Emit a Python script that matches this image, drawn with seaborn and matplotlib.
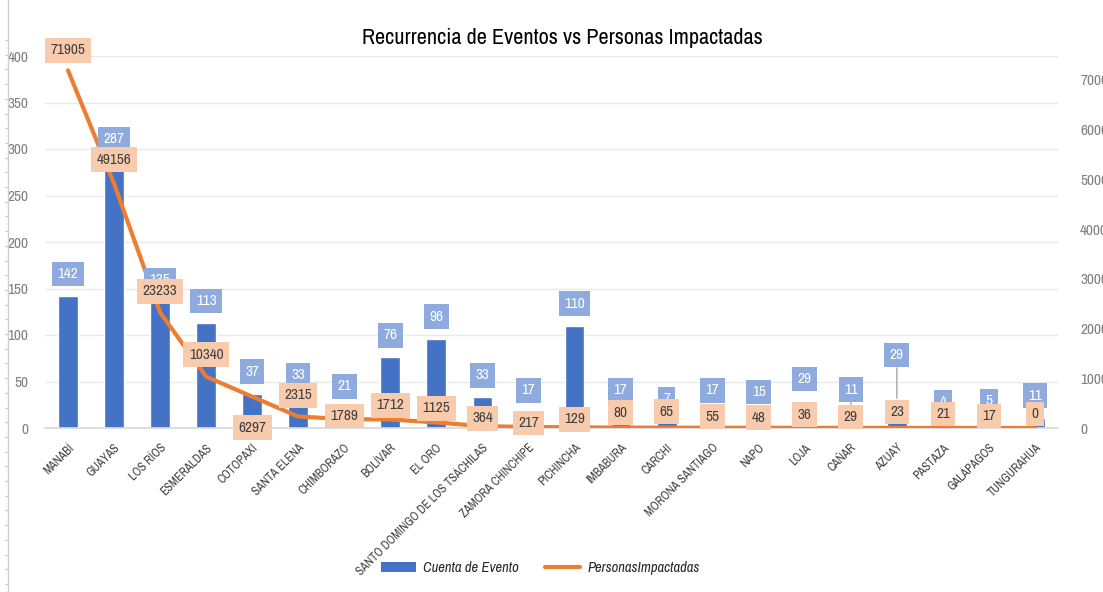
import numpy as np
import pandas as pd
import matplotlib
matplotlib.use("Agg")
import matplotlib.pyplot as plt
import seaborn as sns
from matplotlib.lines import Line2D
from matplotlib.patches import Patch
from matplotlib import font_manager as fm

provincias = ["MANABÍ", "GUAYAS", "LOS RÍOS", "ESMERALDAS", "COTOPAXI", "SANTA ELENA",
              "CHIMBORAZO", "BOLÍVAR", "EL ORO", "SANTO DOMINGO DE LOS TSÁCHILAS",
              "ZAMORA CHINCHIPE", "PICHINCHA", "IMBABURA", "CARCHI", "MORONA SANTIAGO",
              "NAPO", "LOJA", "CAÑAR", "AZUAY", "PASTAZA", "GALÁPAGOS", "TUNGURAHUA"]
cuenta_evento = [142, 287, 135, 113, 37, 33, 21, 76, 96, 33, 17, 110, 17, 7, 17, 15, 29, 11, 29, 4, 5, 11]
personas_impactadas = [71905, 49156, 23233, 10340, 6297, 2315, 1789, 1712, 1125, 364, 217, 129,
                       80, 65, 55, 48, 36, 29, 23, 21, 17, 0]
left_ticks = [0, 50, 100, 150, 200, 250, 300, 350, 400]
right_ticks = [0, 10000, 20000, 30000, 40000, 50000, 60000, 70000]

# label offsets in pixels (styling only)
line_label_dy = [20, 24, 21, 22, -31, 21, 3, 14, 14, 8, 4, 8, 15, 16, 11, 10, 13, 11, 16, 14, 12, 14]
bar_label_dy = [22, 22, 22, 22, 22, 22, 22, 22, 22, 22, 22, 22, 22, 22, 22, 22, 22, 28, 46, 22, 22, 22]

sns.set_theme(style="white")
plt.rcParams["font.family"] = ["DejaVu Sans"]

# look for a condensed / narrow regular font
cands = []
for f in fm.fontManager.ttflist:
    nm = f.name
    st = str(f.stretch)
    if ("Narrow" in nm or "Condensed" in nm or st in ("condensed", "semi-condensed", "extra-condensed")):
        cands.append(f)
cands.sort(key=lambda f: (f.style != "normal", abs((f.weight if isinstance(f.weight, int) else 400) - 400), f.name))
REG = cands[0].fname if cands else None
ITA = None
if cands:
    its = [f for f in fm.fontManager.ttflist if f.name == cands[0].name and f.style == "italic"]
    if its:
        ITA = its[0].fname


def fprop(size, style="normal"):
    fn = ITA if (style == "italic" and ITA) else REG
    if fn:
        return fm.FontProperties(fname=fn, size=size)
    return fm.FontProperties(family="DejaVu Sans", size=size * 0.85, style=style)


df = pd.DataFrame({"prov": provincias, "cuenta": cuenta_evento,
                   "personas": personas_impactadas, "pos": np.arange(len(provincias))})

W, H = 1103, 592
fig = plt.figure(figsize=(W / 100, H / 100), dpi=100)
ax = fig.add_axes([45 / W, 1 - 428 / H, (1058 - 45) / W, (428 - 56) / H])

sns.barplot(data=df, x="pos", y="cuenta", color="#4472C4", width=0.43, ax=ax,
            saturation=1, native_scale=True, zorder=2)
ax.set_xlim(-0.5, len(provincias) - 0.5)
ax.set_ylim(0, 400)
ax.set_yticks(left_ticks)
ax.set_yticklabels([str(t) for t in left_ticks], color="#7F7F7F", fontproperties=fprop(11))
ax.tick_params(axis="y", length=0, pad=12)
ax.grid(axis="y", color="#EAEAEA", linewidth=1, zorder=0)
ax.set_axisbelow(True)
for s in ["top", "right", "left"]:
    ax.spines[s].set_visible(False)
ax.spines["bottom"].set_color("#D9D9D9")
ax.set_xticks(np.arange(len(provincias)))
ax.set_xticklabels(provincias, rotation=45, ha="right", rotation_mode="anchor",
                   fontproperties=fprop(8.6), color="#404040")
ax.tick_params(axis="x", length=0, pad=10)
ax.set_xlabel("")
ax.set_ylabel("")

ax2 = ax.twinx()
sns.lineplot(data=df, x="pos", y="personas", color="#ED7D31", linewidth=3, ax=ax2, zorder=3)
ax2.set_ylim(0, 74800)
ax2.set_yticks(right_ticks)
ax2.set_yticklabels([str(t) for t in right_ticks], color="#7F7F7F", fontproperties=fprop(11))
ax2.tick_params(axis="y", length=0, pad=16)
for s in ["top", "right", "left", "bottom"]:
    ax2.spines[s].set_visible(False)
ax2.set_ylabel("")
ax2.set_xlabel("")
ax2.set_xlim(-0.5, len(provincias) - 0.5)

px = 72 / 100
for i, v in enumerate(cuenta_evento):
    yv = v / 400 * 74800
    dy = bar_label_dy[i]
    if dy > 24:
        ax2.annotate("", xy=(i, yv), xytext=(0, (dy - 10) * px), textcoords="offset points",
                     arrowprops=dict(arrowstyle="-", color="#A6A6A6", lw=1), zorder=4)
    ax2.annotate(str(v), xy=(i, yv), xytext=(0, dy * px), textcoords="offset points",
                 ha="center", va="center", fontproperties=fprop(11), color="white", zorder=4,
                 bbox=dict(boxstyle="square,pad=0.35", fc="#8FAADC", ec="none"))
for i, v in enumerate(personas_impactadas):
    ax2.annotate(str(v), xy=(i, v), xytext=(0, line_label_dy[i] * px), textcoords="offset points",
                 ha="center", va="center", fontproperties=fprop(11), color="#404040", zorder=5,
                 bbox=dict(boxstyle="square,pad=0.35", fc="#F8CBAD", ec="none"))

fig.text(562 / W, 1 - 38 / H, "Recurrencia de Eventos vs Personas Impactadas",
         ha="center", va="center", fontproperties=fprop(16), color="#000000")

# left decorative axis line
fig.add_artist(Line2D([8 / W, 8 / W], [0, 1], color="#D0D0D0", linewidth=1, transform=fig.transFigure))
for yy in np.arange(40, 592, 14.7):
    fig.add_artist(Line2D([5 / W, 8 / W], [1 - yy / H, 1 - yy / H], color="#D0D0D0",
                          linewidth=1, transform=fig.transFigure))

handles = [Patch(facecolor="#4472C4", edgecolor="none"),
           Line2D([0], [0], color="#ED7D31", linewidth=3)]
fig.legend(handles, ["Cuenta de Evento", "PersonasImpactadas"], loc="center",
           bbox_to_anchor=(540 / W, 1 - 568 / H), ncol=2, frameon=False,
           prop=fprop(10.5, "italic"), handlelength=2.4, handletextpad=0.5, columnspacing=1.8)

fig.savefig("out.png", dpi=100)
